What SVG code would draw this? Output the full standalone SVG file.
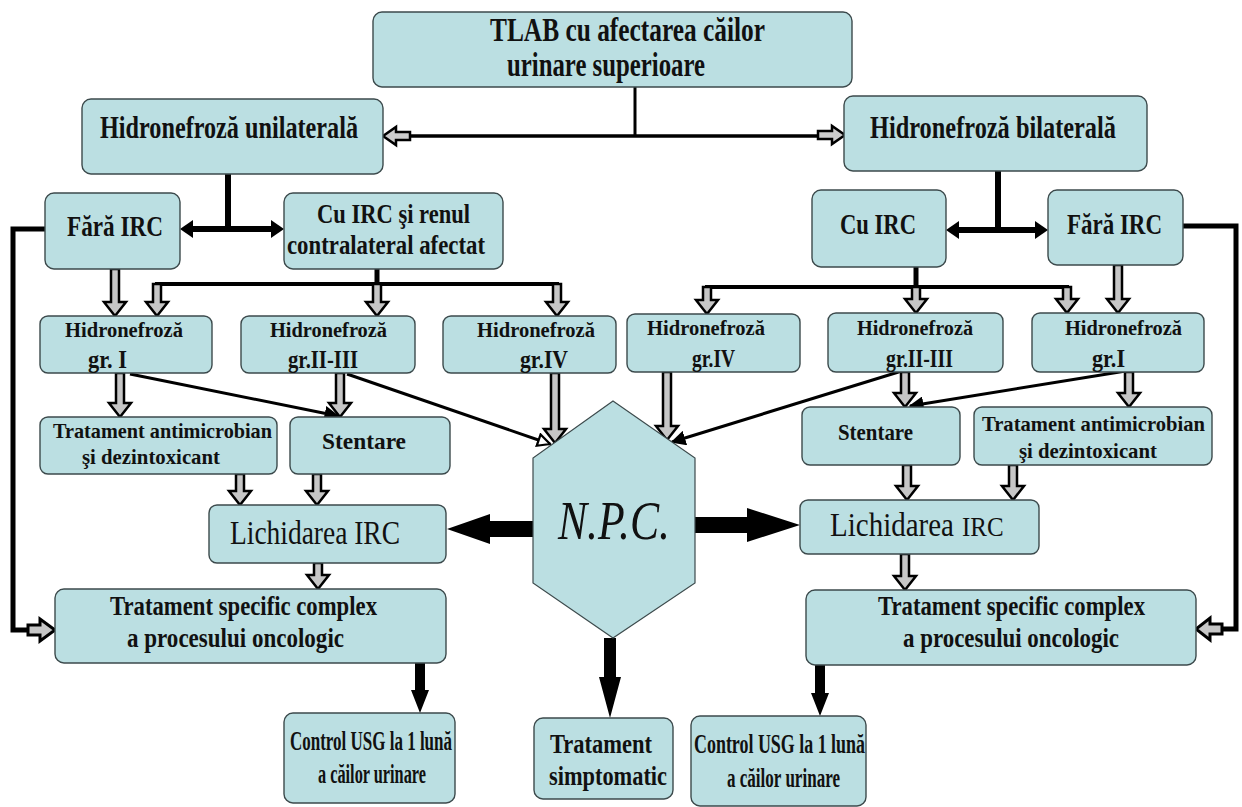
<svg xmlns="http://www.w3.org/2000/svg" width="1242" height="807" viewBox="0 0 1242 807">
<defs>
<style>
.box{fill:#bbdfe2;stroke:#3c4a4c;stroke-width:1.4}
.t{font-family:"Liberation Serif","Times New Roman",serif;font-weight:bold;fill:#111}
.r{font-weight:normal}
.ga{fill:#c6c6c6;stroke:#000;stroke-width:2.5;stroke-linejoin:miter}
.ba{fill:#000;stroke:none}
.ln{stroke:#000;fill:none}
</style>
<marker id="ah" viewBox="0 0 10 10" refX="9" refY="5" markerWidth="5" markerHeight="5" orient="auto"><path d="M0,0 L10,5 L0,10 z" fill="#000"/></marker>
<marker id="aho" viewBox="0 0 10 10" refX="9" refY="5" markerWidth="5" markerHeight="5" orient="auto"><path d="M1,1 L9,5 L1,9 z" fill="#fff" stroke="#000" stroke-width="1.5"/></marker>
</defs>
<rect width="1242" height="807" fill="#fff"/>

<g id="connectors">
<line class="ln" x1="635" y1="87" x2="635" y2="136" stroke-width="3"/>
<line class="ln" x1="405" y1="136" x2="822" y2="136" stroke-width="3.5"/>
<polygon points="383,136 396,127 396,132 410,132 410,140 396,140 396,145" fill="#ccc" stroke="#000" stroke-width="2.5"/>
<polygon points="845,135 832,126 832,131 818,131 818,139 832,139 832,144" fill="#ccc" stroke="#000" stroke-width="2.5"/>
<line class="ln" x1="228" y1="174" x2="228" y2="229" stroke-width="6"/>
<line class="ln" x1="188" y1="229" x2="276" y2="229" stroke-width="6"/>
<polygon class="ba" points="180,229 193,220 193,238"/>
<polygon class="ba" points="284,229 271,220 271,238"/>
<line class="ln" x1="998" y1="171" x2="998" y2="230" stroke-width="6"/>
<line class="ln" x1="954" y1="230" x2="1040" y2="230" stroke-width="6"/>
<polygon class="ba" points="946,230 959,221 959,239"/>
<polygon class="ba" points="1048,230 1035,221 1035,239"/>
<polyline class="ln" points="45,229 13,229 13,630 30,630" stroke-width="5"/>
<polygon points="28,625 40,625 40,619 55,630 40,641 40,635 28,635" fill="#c6c6c6" stroke="#000" stroke-width="3"/>
<polyline class="ln" points="1183,226 1236,226 1236,629 1220,629" stroke-width="5"/>
<polygon points="1222,624 1210,624 1210,618 1196,629 1210,640 1210,634 1222,634" fill="#c6c6c6" stroke="#000" stroke-width="3"/>
<line class="ln" x1="377" y1="269" x2="377" y2="284" stroke-width="5"/>
<line class="ln" x1="155" y1="284" x2="559" y2="284" stroke-width="4"/>
<line class="ln" x1="916" y1="267" x2="916" y2="287" stroke-width="5"/>
<line class="ln" x1="705" y1="287" x2="1069" y2="287" stroke-width="4"/>
<polygon class="ga" points="111,269 119,269 119,302 126,302 115,316 104,302 111,302"/>
<polygon class="ga" points="153,284 161,284 161,302 168,302 157,316 146,302 153,302"/>
<polygon class="ga" points="373,284 381,284 381,302 388,302 377,316 366,302 373,302"/>
<polygon class="ga" points="553,284 561,284 561,302 568,302 557,316 546,302 553,302"/>
<polygon class="ga" points="703,287 711,287 711,300 718,300 707,314 696,300 703,300"/>
<polygon class="ga" points="912,287 920,287 920,299 927,299 916,313 905,299 912,299"/>
<polygon class="ga" points="1063,287 1071,287 1071,299 1078,299 1067,313 1056,299 1063,299"/>
<polygon class="ga" points="1114,265 1122,265 1122,299 1129,299 1118,313 1107,299 1114,299"/>
<polygon class="ga" points="116,373 124,373 124,403 131,403 120,417 109,403 116,403"/>
<polygon class="ga" points="336,373 344,373 344,403 351,403 340,417 329,403 336,403"/>
<polygon class="ga" points="551,373 559,373 559,429 566,429 555,443 544,429 551,429"/>
<polygon class="ga" points="663,372 671,372 671,426 678,426 667,440 656,426 663,426"/>
<polygon class="ga" points="901,372 909,372 909,393 916,393 905,407 894,393 901,393"/>
<polygon class="ga" points="1125,372 1133,372 1133,393 1140,393 1129,407 1118,393 1125,393"/>
<polygon class="ga" points="236,474 244,474 244,491 251,491 240,505 229,491 236,491"/>
<polygon class="ga" points="313,474 321,474 321,491 328,491 317,505 306,491 313,491"/>
<polygon class="ga" points="903,465 911,465 911,486 918,486 907,500 896,486 903,486"/>
<polygon class="ga" points="1009,465 1017,465 1017,486 1024,486 1013,500 1002,486 1009,486"/>
<polygon class="ga" points="314,563 322,563 322,575 329,575 318,589 307,575 314,575"/>
<polygon class="ga" points="901,554 909,554 909,576 916,576 905,590 894,576 901,576"/>
<line class="ln" x1="130" y1="374" x2="338" y2="416" stroke-width="3" marker-end="url(#ah)"/>
<line class="ln" x1="347" y1="374" x2="550" y2="444" stroke-width="3" marker-end="url(#aho)"/>
<line class="ln" x1="905" y1="370" x2="672" y2="442" stroke-width="3" marker-end="url(#ah)"/>
<line class="ln" x1="1132" y1="370" x2="910" y2="406" stroke-width="3" marker-end="url(#ah)"/>
<polygon class="ba" points="533,521 490,521 490,514 447,529 490,544 490,537 533,537"/>
<polygon class="ba" points="695,517 747,517 747,508 800,525 747,542 747,533 695,533"/>
<polygon class="ba" points="604,638 616,638 616,677 621,677 610,718 599,677 604,677"/>
<polygon class="ba" points="415,663 425,663 425,690 429,690 420,713 411,690 415,690"/>
<polygon class="ba" points="815,665 825,665 825,693 829,693 820,716 811,693 815,693"/>
</g>

<g id="n-tlab"><rect class="box" x="373" y="12" width="479" height="75" rx="9"/>
<text class="t" x="490" y="41" font-size="34" textLength="275" lengthAdjust="spacingAndGlyphs">TLAB cu afectarea căilor</text>
<text class="t" x="507" y="76" font-size="34" textLength="198" lengthAdjust="spacingAndGlyphs">urinare superioare</text></g>

<g id="n-unilat"><rect class="box" x="82" y="99" width="301" height="75" rx="9"/>
<text class="t" x="100" y="138" font-size="31" textLength="258" lengthAdjust="spacingAndGlyphs">Hidronefroză unilaterală</text></g>

<g id="n-bilat"><rect class="box" x="844" y="96" width="303" height="75" rx="9"/>
<text class="t" x="870" y="138" font-size="31" textLength="246" lengthAdjust="spacingAndGlyphs">Hidronefroză bilaterală</text></g>

<g id="n-fara-l"><rect class="box" x="45" y="193" width="135" height="76" rx="9"/>
<text class="t" x="67" y="236" font-size="29" textLength="96" lengthAdjust="spacingAndGlyphs">Fără IRC</text></g>

<g id="n-cu-renul"><rect class="box" x="284" y="193" width="219" height="76" rx="9"/>
<text class="t" x="317" y="223" font-size="28" textLength="153" lengthAdjust="spacingAndGlyphs">Cu IRC şi renul</text>
<text class="t" x="287" y="254" font-size="28" textLength="198" lengthAdjust="spacingAndGlyphs">contralateral afectat</text></g>

<g id="n-cu-r"><rect class="box" x="812" y="190" width="134" height="77" rx="9"/>
<text class="t" x="840" y="234" font-size="29" textLength="76" lengthAdjust="spacingAndGlyphs">Cu IRC</text></g>

<g id="n-fara-r"><rect class="box" x="1048" y="190" width="135" height="75" rx="9"/>
<text class="t" x="1067" y="234" font-size="29" textLength="95" lengthAdjust="spacingAndGlyphs">Fără IRC</text></g>

<g id="n-h1-l"><rect class="box" x="40" y="316" width="172" height="57" rx="8"/>
<text class="t" x="65" y="337" font-size="20" textLength="118" lengthAdjust="spacingAndGlyphs">Hidronefroză</text>
<text class="t" x="88" y="368" font-size="25" textLength="39" lengthAdjust="spacingAndGlyphs">gr. I</text></g>

<g id="n-h23-l"><rect class="box" x="241" y="316" width="174" height="57" rx="8"/>
<text class="t" x="270" y="337" font-size="20" textLength="117" lengthAdjust="spacingAndGlyphs">Hidronefroză</text>
<text class="t" x="288" y="368" font-size="25" textLength="70" lengthAdjust="spacingAndGlyphs">gr.II-III</text></g>

<g id="n-h4-l"><rect class="box" x="443" y="316" width="173" height="57" rx="8"/>
<text class="t" x="477" y="337" font-size="20" textLength="118" lengthAdjust="spacingAndGlyphs">Hidronefroză</text>
<text class="t" x="520" y="368" font-size="25" textLength="48" lengthAdjust="spacingAndGlyphs">gr.IV</text></g>

<g id="n-h4-r"><rect class="box" x="627" y="314" width="173" height="58" rx="8"/>
<text class="t" x="647" y="335" font-size="20" textLength="118" lengthAdjust="spacingAndGlyphs">Hidronefroză</text>
<text class="t" x="692" y="367" font-size="25" textLength="43" lengthAdjust="spacingAndGlyphs">gr.IV</text></g>

<g id="n-h23-r"><rect class="box" x="828" y="313" width="175" height="59" rx="8"/>
<text class="t" x="857" y="335" font-size="20" textLength="116" lengthAdjust="spacingAndGlyphs">Hidronefroză</text>
<text class="t" x="886" y="367" font-size="25" textLength="67" lengthAdjust="spacingAndGlyphs">gr.II-III</text></g>

<g id="n-h1-r"><rect class="box" x="1032" y="313" width="172" height="59" rx="8"/>
<text class="t" x="1065" y="335" font-size="20" textLength="117" lengthAdjust="spacingAndGlyphs">Hidronefroză</text>
<text class="t" x="1092" y="367" font-size="25" textLength="33" lengthAdjust="spacingAndGlyphs">gr.I</text></g>

<g id="n-antim-l"><rect class="box" x="40" y="417" width="237" height="57" rx="8"/>
<text class="t" x="53" y="438" font-size="22" textLength="219" lengthAdjust="spacingAndGlyphs">Tratament antimicrobian</text>
<text class="t" x="82" y="464" font-size="22" textLength="138" lengthAdjust="spacingAndGlyphs">şi dezintoxicant</text></g>

<g id="n-stent-l"><rect class="box" x="290" y="417" width="160" height="57" rx="8"/>
<text class="t" x="322" y="449" font-size="24" textLength="84" lengthAdjust="spacingAndGlyphs">Stentare</text></g>

<g id="n-stent-r"><rect class="box" x="802" y="407" width="158" height="58" rx="8"/>
<text class="t" x="838" y="440" font-size="23" textLength="75" lengthAdjust="spacingAndGlyphs">Stentare</text></g>

<g id="n-antim-r"><rect class="box" x="974" y="407" width="238" height="58" rx="8"/>
<text class="t" x="982" y="431" font-size="22" textLength="223" lengthAdjust="spacingAndGlyphs">Tratament antimicrobian</text>
<text class="t" x="1019" y="458" font-size="22" textLength="138" lengthAdjust="spacingAndGlyphs">şi dezintoxicant</text></g>

<g id="n-lich-l"><rect class="box" x="209" y="505" width="237" height="58" rx="8"/>
<text class="t r" x="230" y="544" font-size="34" textLength="170" lengthAdjust="spacingAndGlyphs">Lichidarea IRC</text></g>

<g id="n-lich-r"><rect class="box" x="800" y="500" width="239" height="54" rx="8"/>
<text class="t r" transform="translate(830,536) scale(1,1.15)" font-size="29">Lichidarea</text>
<text class="t r" transform="translate(962,536) scale(1,1.1)" font-size="25">IRC</text></g>

<g id="n-npc"><polygon points="613,401 695,458 695,583 613,638 533,583 533,458" fill="#bbdfe2" stroke="#3c4a4c" stroke-width="1.2"/>
<text class="t r" x="558" y="539" font-size="55" font-style="italic" textLength="112" lengthAdjust="spacingAndGlyphs">N.P.C.</text></g>

<g id="n-spec-l"><rect class="box" x="55" y="589" width="391" height="74" rx="9"/>
<text class="t" x="110" y="615" font-size="27" textLength="267" lengthAdjust="spacingAndGlyphs">Tratament specific complex</text>
<text class="t" x="127" y="647" font-size="27" textLength="217" lengthAdjust="spacingAndGlyphs">a procesului oncologic</text></g>

<g id="n-spec-r"><rect class="box" x="806" y="590" width="390" height="75" rx="9"/>
<text class="t" x="878" y="615" font-size="27" textLength="267" lengthAdjust="spacingAndGlyphs">Tratament specific complex</text>
<text class="t" x="903" y="647" font-size="27" textLength="216" lengthAdjust="spacingAndGlyphs">a procesului oncologic</text></g>

<g id="n-ctrl-l"><rect class="box" x="284" y="713" width="171" height="90" rx="9"/>
<text class="t" x="290" y="750" font-size="27" textLength="162" lengthAdjust="spacingAndGlyphs">Control USG la 1 lună</text>
<text class="t" x="318" y="783" font-size="27" textLength="108" lengthAdjust="spacingAndGlyphs">a căilor urinare</text></g>

<g id="n-simpt"><rect class="box" x="534" y="718" width="139" height="81" rx="9"/>
<text class="t" x="550" y="753" font-size="27" textLength="102" lengthAdjust="spacingAndGlyphs">Tratament</text>
<text class="t" x="549" y="785" font-size="27" textLength="118" lengthAdjust="spacingAndGlyphs">simptomatic</text></g>

<g id="n-ctrl-r"><rect class="box" x="691" y="716" width="175" height="90" rx="9"/>
<text class="t" x="694" y="753" font-size="27" textLength="171" lengthAdjust="spacingAndGlyphs">Control USG la 1 lună</text>
<text class="t" x="727" y="787" font-size="27" textLength="113" lengthAdjust="spacingAndGlyphs">a căilor urinare</text></g>
</svg>
